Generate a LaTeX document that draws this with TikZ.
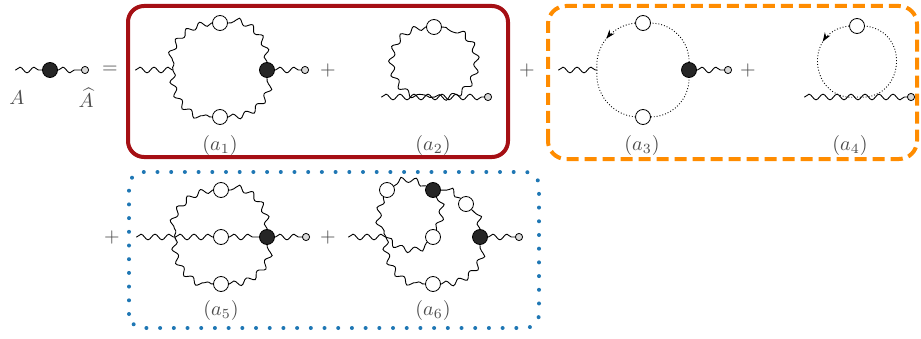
\documentclass[tikz,border=0pt]{standalone}
\usetikzlibrary{decorations.pathmorphing,decorations.markings,arrows.meta}
\definecolor{boxred}{RGB}{165,15,20}
\definecolor{boxorange}{RGB}{255,140,0}
\definecolor{boxblue}{RGB}{31,119,180}

\begin{document}
\begin{tikzpicture}
[x=0.5pt, y=0.5pt,
 blobnode/.style={circle, draw=black, fill=black!85, line width=0.4pt, inner sep=0pt, minimum size=7.5pt},
 propnode/.style={circle, draw=black, fill=white, line width=0.4pt, inner sep=0pt, minimum size=7.5pt},
 endnode/.style={circle, draw=black, fill=black!15, line width=0.4pt, inner sep=0pt, minimum size=3.6pt},
 textnode/.style={text=black!70, inner sep=1pt},
 wavy/.style={decorate, decoration={snake, amplitude=1.4pt, segment length=7pt, pre length=0.3pt, post length=0.3pt}, line width=0.45pt},
 ghost/.style={line width=0.45pt, dash pattern=on 0.45pt off 1pt},
 arrowmark/.style={postaction={decorate, decoration={markings, mark=at position #1 with {\arrow{Stealth[length=4.5pt,width=3.2pt]}}}}},
 redframe/.style={draw=boxred, line width=2pt, rounded corners=8pt},
 orangeframe/.style={draw=boxorange, line width=2pt, dash pattern=on 6pt off 3pt, rounded corners=9pt},
 blueframe/.style={draw=boxblue, line width=2pt, line cap=round, dash pattern=on 0pt off 6.85pt, rounded corners=7pt}]
\useasboundingbox (0,0) rectangle (921,338);
% frames
\draw[redframe]    (128,181) rectangle (508,332);
\draw[orangeframe] (548,179) rectangle (917,332);
\draw[blueframe]   (129,10) rectangle (539,166);
% left hand side
\coordinate	(lin)	at (15,268);
\node[blobnode]	(lblob)	at (50,268)	{};
\node[endnode]	(lout)	at (85,268)	{};
\node[textnode]	(labA)	at (17,240)	{$A$};
\node[textnode]	(labAhat) at (86,240)	{$\widehat{A}$};
\node[textnode]	(eq)	at (110,268)	{$=$};
\draw[wavy] (lin) -- (lblob);
\draw[wavy] (lblob) -- (lout);
% (a1)
\coordinate	(ain1)	at (135,268);
\coordinate	(av1)	at (173,268);
\node[propnode]	(atop1)	at (220,315)	{};
\node[propnode]	(abot1)	at (220,221)	{};
\node[blobnode]	(ablob1) at (267,268)	{};
\node[endnode]	(aout1)	at (305,268)	{};
\node[textnode]	(lab1)	at (220,192)	{$(a_1)$};
\node[textnode]	(plus1)	at (328,268)	{$+$};
\draw[wavy] (ain1) -- (av1);
\draw[wavy] (av1) to [bend right=45] (abot1);
\draw[wavy] (abot1) to [bend right=45] (ablob1);
\draw[wavy] (ablob1) to [bend right=45] (atop1);
\draw[wavy] (atop1) to [bend right=45] (av1);
\draw[wavy] (ablob1) -- (aout1);
% (a2)
\coordinate	(ain2)	at (381,241);
\coordinate	(av2)	at (434,241);
\node[propnode]	(atop2)	at (434,311)	{};
\node[endnode]	(aout2)	at (488,241)	{};
\node[textnode]	(lab2)	at (433,192)	{$(a_2)$};
\node[textnode]	(plus2)	at (527,268)	{$+$};
\draw[wavy] (ain2) -- (av2) -- (aout2);
\draw[wavy] (av2) to [bend right=90, looseness=1.7] (atop2);
\draw[wavy] (atop2) to [bend right=90, looseness=1.7] (av2);
% (a3)
\coordinate	(ain3)	at (558,268);
\coordinate	(av3)	at (597,268);
\node[propnode]	(atop3)	at (643,315)	{};
\node[propnode]	(abot3)	at (643,221)	{};
\node[blobnode]	(ablob3) at (689,268)	{};
\node[endnode]	(aout3)	at (728,268)	{};
\node[textnode]	(lab3)	at (642,192)	{$(a_3)$};
\node[textnode]	(plus3)	at (748,268)	{$+$};
\draw[wavy] (ain3) -- (av3);
\draw[ghost] (av3) to [bend right=45] (abot3);
\draw[ghost] (abot3) to [bend right=45] (ablob3);
\draw[ghost] (ablob3) to [bend right=45] (atop3);
\draw[ghost, arrowmark=0.5] (atop3) to [bend right=45] (av3);
\draw[wavy] (ablob3) -- (aout3);
% (a4)
\coordinate	(ain4)	at (804,241);
\coordinate	(av4)	at (857,241);
\node[propnode]	(atop4)	at (857,312)	{};
\node[endnode]	(aout4)	at (911,241)	{};
\node[textnode]	(lab4)	at (850,192)	{$(a_4)$};
\draw[wavy] (ain4) -- (av4) -- (aout4);
\draw[ghost] (av4) to [bend right=90, looseness=1.7] (atop4);
\draw[ghost, arrowmark=0.28] (atop4) to [bend right=90, looseness=1.7] (av4);
% (a5)
\node[textnode]	(plus4)	at (112,101)	{$+$};
\coordinate	(ain5)	at (136,101);
\coordinate	(av5)	at (175,101);
\node[propnode]	(atop5)	at (221,148)	{};
\node[propnode]	(amid5)	at (221,101)	{};
\node[propnode]	(abot5)	at (221,54)	{};
\node[blobnode]	(ablob5) at (267,101)	{};
\node[endnode]	(aout5)	at (306,101)	{};
\node[textnode]	(lab5)	at (221,28)	{$(a_5)$};
\node[textnode]	(plus5)	at (328,101)	{$+$};
\draw[wavy] (ain5) -- (av5);
\draw[wavy] (av5) to [bend right=45] (abot5);
\draw[wavy] (abot5) to [bend right=45] (ablob5);
\draw[wavy] (ablob5) to [bend right=45] (atop5);
\draw[wavy] (atop5) to [bend right=45] (av5);
\draw[wavy] (av5) -- (amid5);
\draw[wavy] (amid5) -- (ablob5);
\draw[wavy] (ablob5) -- (aout5);
% (a6)
\coordinate	(ain6)	at (348,101);
\coordinate	(av6)	at (386,101);
\node[propnode]	(aleft6) at (387,148)	{};
\node[blobnode]	(ablobt6) at (433,148)	{};
\node[propnode]	(aright6) at (466,134)	{};
\node[blobnode]	(ablobr6) at (480,101)	{};
\node[propnode]	(amid6)	at (433,101)	{};
\node[propnode]	(abot6)	at (433,54)	{};
\node[endnode]	(aout6)	at (519,101)	{};
\node[textnode]	(lab6)	at (433,28)	{$(a_6)$};
\draw[wavy] (ain6) -- (av6);
\draw[wavy] (aleft6) to [bend right=25] (av6);
\draw[wavy] (av6) to [bend right=40] (amid6);
\draw[wavy] (amid6) to [bend right=25] (ablobt6);
\draw[wavy] (ablobt6) to [bend right=30] (aleft6);
\draw[wavy] (av6) to [bend right=45] (abot6);
\draw[wavy] (abot6) to [bend right=45] (ablobr6);
\draw[wavy] (ablobr6) to [bend right=22.5] (aright6);
\draw[wavy] (aright6) to [bend right=22.5] (ablobt6);
\draw[wavy] (ablobr6) -- (aout6);
\end{tikzpicture}
\end{document}
